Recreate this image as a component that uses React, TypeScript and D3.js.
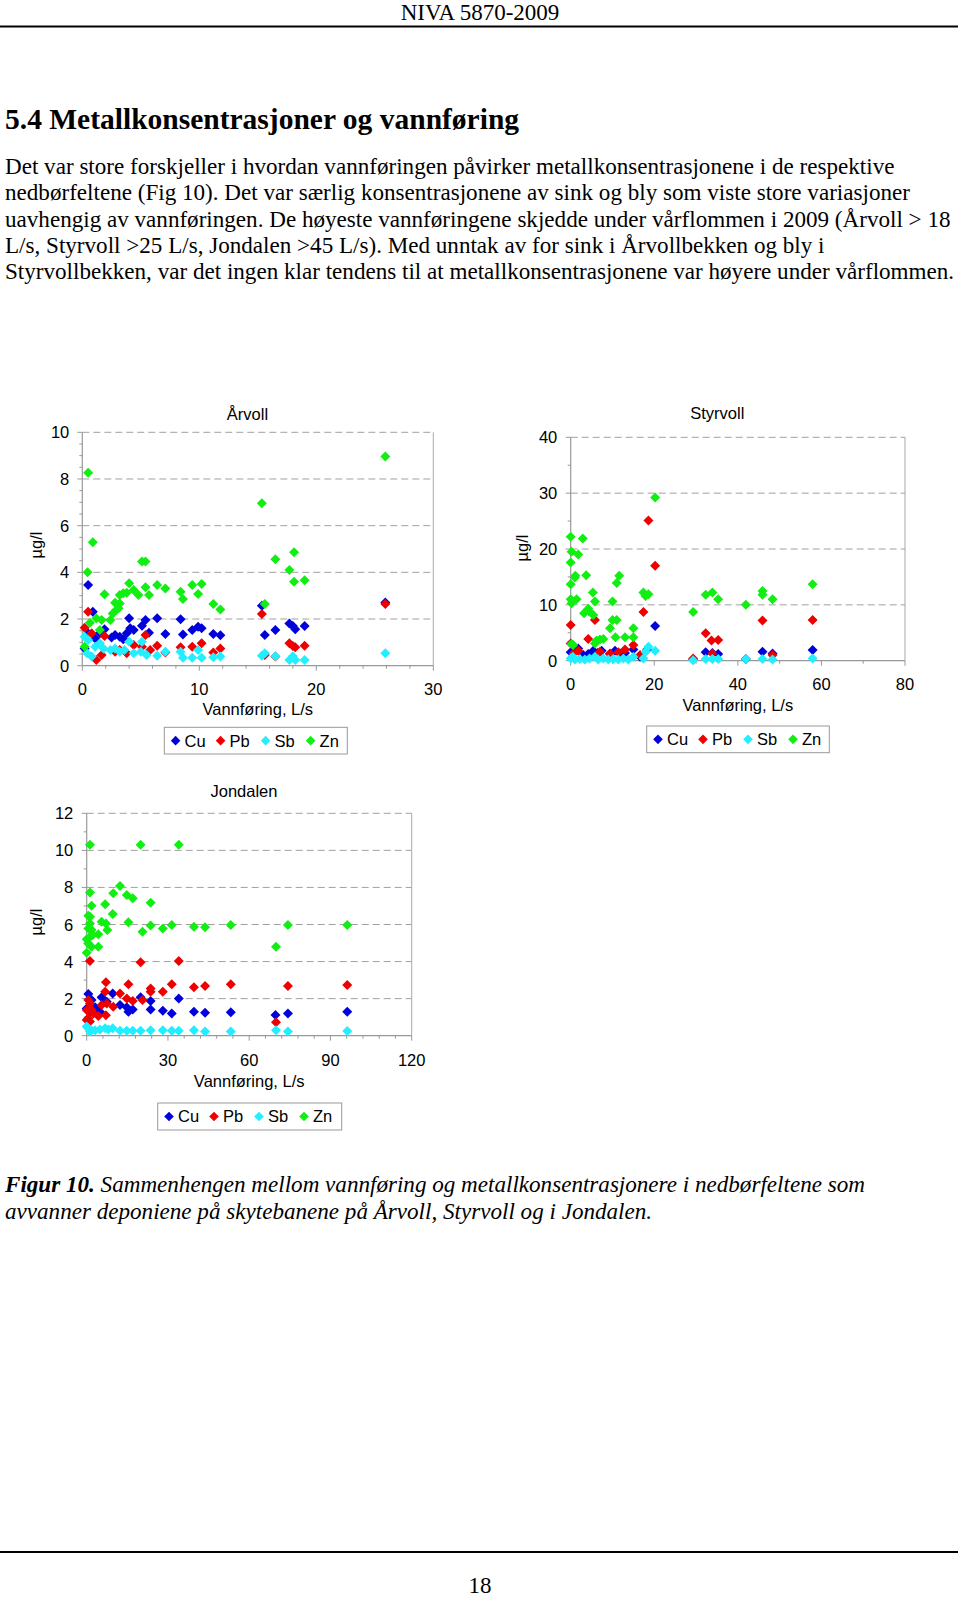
import React from 'react';
import * as d3 from 'd3';

type Pt = [number, number];

const SERIES_NAMES = ['Cu', 'Pb', 'Sb', 'Zn'];
const SERIES_COLORS = ['#0000DD', '#EE0000', '#22EEFF', '#11EE11'];

// Årvoll
const arvollCu: Pt[] = [[0.5,3.46],[0.9,2.31],[25.9,2.71],[15.35,2.57],[15.6,1.31],[16.5,1.53],[17.7,1.81],[18.0,1.7],[18.2,1.56],[19.0,1.7],[8.4,1.99],[8.6,1.34],[9.4,1.53],[9.9,1.67],[10.2,1.6],[11.2,1.36],[11.8,1.3],[7.1,1.36],[6.4,2.03],[5.7,1.41],[5.4,1.96],[5.1,1.71],[4.0,2.03],[4.4,1.53],[4.1,1.6],[3.8,1.39],[3.2,1.24],[2.8,1.31],[2.5,1.21],[1.9,1.56],[1.5,1.39],[1.1,1.17],[0.2,0.74],[0.5,1.39],[3.5,1.13]];
const arvollPb: Pt[] = [[0.5,2.31],[0.2,1.63],[0.8,1.39],[1.2,0.24],[1.65,0.46],[1.9,1.27],[15.35,2.21],[25.9,2.64],[17.7,0.96],[18.0,0.84],[18.2,0.79],[19.0,0.86],[8.4,0.79],[9.4,0.81],[10.2,0.96],[11.2,0.57],[11.8,0.74],[7.1,0.57],[6.4,0.86],[5.4,1.31],[5.1,0.81],[4.4,0.89],[3.8,0.53],[2.8,0.6],[3.2,0.67],[5.8,0.67],[15.6,0.46],[16.5,0.39]];
const arvollSb: Pt[] = [[0.2,1.24],[0.5,1.1],[0.4,0.53],[0.8,0.39],[1.1,0.81],[1.5,0.96],[1.8,0.74],[2.4,0.67],[2.8,0.74],[3.2,0.6],[3.6,0.67],[4.0,1.03],[4.4,0.53],[5.0,0.6],[5.1,1.03],[5.5,0.46],[6.4,0.43],[7.1,0.6],[8.4,0.6],[8.6,0.34],[9.4,0.34],[9.9,0.67],[10.2,0.34],[11.2,0.36],[11.8,0.39],[15.35,0.43],[15.6,0.53],[16.5,0.41],[17.7,0.24],[18.0,0.41],[18.2,0.24],[19.0,0.24],[25.9,0.53]];
const arvollZn: Pt[] = [[0.5,8.27],[0.9,5.29],[0.45,4.0],[25.9,8.96],[15.35,6.96],[16.5,4.56],[18.1,4.86],[17.7,4.1],[18.1,3.6],[19.0,3.66],[15.6,2.64],[5.1,4.46],[5.4,4.46],[4.0,3.53],[5.4,3.36],[5.7,3.03],[6.4,3.46],[7.1,3.31],[8.4,3.17],[8.6,2.86],[9.4,3.46],[9.9,3.07],[10.2,3.5],[11.2,2.64],[11.8,2.41],[4.4,3.24],[4.8,3.03],[3.2,3.03],[3.5,3.1],[3.8,3.13],[2.8,2.7],[2.9,2.39],[2.6,2.24],[1.9,3.06],[2.4,1.96],[1.65,1.96],[1.2,2.03],[0.65,1.84],[1.5,1.53],[0.2,0.81],[3.2,2.67],[3.1,2.46]];

// Styrvoll
const styrvollCu: Pt[] = [[20.2,6.2],[57.9,1.9],[45.9,1.6],[48.3,1.3],[32.3,1.5],[33.9,1.4],[35.3,1.2],[0,1.5],[0.6,1.8],[1.8,2.2],[3.0,1.0],[4.2,1.2],[5.4,1.8],[6.4,1.4],[7.4,1.8],[9.4,1.2],[10.6,1.8],[11.8,1.3],[13,1.4],[15,2.0],[18.3,2.0],[29.3,0.2],[41.9,0.3],[16.6,0.7]];
const styrvollPb: Pt[] = [[0,6.4],[0,3.1],[4.2,3.9],[5.8,7.3],[18.6,25.1],[20.2,17.0],[17.4,8.7],[32.3,4.9],[33.7,3.6],[35.3,3.7],[45.9,7.2],[57.9,7.3],[13.0,2.0],[15.0,2.8],[1.8,1.8],[9.4,1.3],[29.3,0.4],[48.3,1.0],[33.9,1.3],[0.6,1.3],[7,1.6],[11.4,1.5],[16.6,1.0]];
const styrvollSb: Pt[] = [[20.2,1.8],[18.6,2.5],[17.9,1.6],[17.4,0.4],[15,0.7],[57.9,0.4],[45.9,0.3],[48.3,0.2],[41.9,0.3],[32.3,0.3],[33.9,0.3],[35.3,0.3],[29.3,0.1],[0,0.4],[0.5,0.7],[1.0,0.2],[2.2,0.3],[3.4,0.2],[4.5,0.4],[5.8,0.7],[6.6,0.2],[7.8,0.4],[9.0,0.2],[10.2,0.3],[11.4,0.2],[12.6,0.4],[13.8,0.2]];
const styrvollZn: Pt[] = [[0,22.2],[2.9,21.9],[0.2,19.5],[1.8,19.0],[0,17.6],[1.1,15.2],[3.7,15.3],[1.0,14.9],[0,13.7],[11.0,13.9],[11.6,15.2],[0,11.0],[1.4,11.0],[0.2,10.3],[5.3,12.2],[5.8,10.6],[10.0,10.6],[3.2,8.5],[4.2,9.3],[4.4,8.8],[5.4,8.2],[10.0,7.3],[11.0,7.3],[9.4,5.8],[10.7,4.2],[13.0,4.2],[15.0,5.8],[15.0,4.2],[6.2,3.6],[7.0,3.8],[7.8,3.9],[17.4,12.2],[18.6,11.9],[17.9,11.6],[20.2,29.2],[29.3,8.7],[32.3,11.8],[33.9,12.2],[35.3,11.0],[41.9,10.0],[45.9,12.5],[45.9,11.8],[48.3,11.0],[57.9,13.7],[0.2,3.0],[0.6,2.8],[5.8,3.1]];

// Jondalen
const jondalenCu: Pt[] = [[0.6,2.25],[5.5,2.07],[9.6,2.28],[12.3,1.65],[14.8,1.53],[15.4,1.29],[17.0,1.42],[19.9,2.07],[23.6,1.87],[23.6,1.42],[34.0,2.01],[28.1,1.35],[31.4,1.2],[39.6,1.29],[43.7,1.24],[53.2,1.26],[69.7,1.12],[74.3,1.2],[96.2,1.29],[1.8,1.92],[7.4,1.83],[3.1,1.53],[0,1.47],[1.2,1.29],[4.9,1.29]];
const jondalenPb: Pt[] = [[1.2,4.03],[19.9,3.96],[34.0,4.03],[7.1,2.88],[15.4,2.77],[23.6,2.55],[23.6,2.37],[28.1,2.37],[31.4,2.77],[39.6,2.61],[43.7,2.68],[53.2,2.77],[74.3,2.68],[96.2,2.73],[69.9,0.72],[12.3,2.28],[6.8,2.37],[14.8,2.01],[17.0,1.87],[20.6,1.92],[9.8,1.56],[5.5,1.65],[7.4,1.74],[4.3,1.06],[7.1,1.11],[0.6,1.92],[1.2,1.74],[1.8,1.38],[0.6,0.94],[1.2,0.76],[0,1.38],[2.5,1.2],[0,0.85]];
const jondalenSb: Pt[] = [[0.6,0.4],[1.8,0.3],[3.1,0.3],[4.9,0.34],[6.8,0.4],[8,0.34],[9.6,0.4],[12.3,0.27],[14.8,0.27],[17,0.27],[19.9,0.27],[23.6,0.3],[28.1,0.3],[31.4,0.27],[34,0.27],[39.6,0.3],[43.7,0.22],[53.2,0.22],[69.9,0.3],[74.3,0.22],[96.2,0.25],[0,0.49],[1.2,0.22]];
const jondalenZn: Pt[] = [[1.2,10.3],[19.9,10.3],[34.0,10.3],[12.3,8.08],[9.8,7.68],[14.8,7.59],[17.0,7.41],[1.2,7.72],[23.6,7.18],[6.8,7.09],[1.8,7.01],[9.6,6.56],[5.5,6.15],[15.4,6.12],[7.1,6.06],[7.6,5.7],[4.3,5.47],[0.6,6.47],[1.2,6.42],[23.6,5.94],[31.4,5.97],[28.1,5.79],[39.6,5.88],[43.7,5.85],[53.2,5.97],[74.3,5.97],[96.2,5.97],[69.9,4.8],[20.6,5.61],[4.3,4.8],[0,4.48],[0.6,4.98],[1.2,5.34],[1.8,5.7],[0.6,5.79],[1.2,6.06],[0,5.2],[1.8,4.8],[2.2,5.43]];

const paragraphLines = [
  'Det var store forskjeller i hvordan vannføringen påvirker metallkonsentrasjonene i de respektive',
  'nedbørfeltene (Fig 10). Det var særlig konsentrasjonene av sink og bly som viste store variasjoner',
  'uavhengig av vannføringen. De høyeste vannføringene skjedde under vårflommen i 2009 (Årvoll > 18',
  'L/s, Styrvoll >25 L/s, Jondalen >45 L/s). Med unntak av for sink i Årvollbekken og bly i',
  'Styrvollbekken, var det ingen klar tendens til at metallkonsentrasjonene var høyere under vårflommen.',
];

const SANS = '"Liberation Sans", Arial, sans-serif';
const SERIF = '"Liberation Serif", "Times New Roman", serif';

interface ChartCfg {
  title: string;
  left: number; right: number; top: number; bottom: number;
  xMax: number; xStep: number; xMinor: number;
  yMax: number; yStep: number; yMinor: number;
  yLabelX: number; xLabelY: number; axisTitleY: number;
  titleX: number; titleY: number;
  unitX: number; unitY: number;
  legX: number; legY: number; legW: number; legH: number;
  series: Pt[][];
}

function diamond(cx: number, cy: number, r: number) {
  return `M${cx},${cy - r}L${cx + r},${cy}L${cx},${cy + r}L${cx - r},${cy}Z`;
}

function ScatterChart({ c }: { c: ChartCfg }) {
  const x = d3.scaleLinear().domain([0, c.xMax]).range([c.left, c.right]);
  const y = d3.scaleLinear().domain([0, c.yMax]).range([c.bottom, c.top]);
  const eps = 1e-9;
  const xMaj = d3.range(0, c.xMax + eps, c.xStep);
  const yMaj = d3.range(0, c.yMax + eps, c.yStep);
  const xMin = d3.range(0, c.xMax + eps, c.xMinor).filter(v => Math.abs(v / c.xStep - Math.round(v / c.xStep)) > 1e-6);
  const yMin = d3.range(0, c.yMax + eps, c.yMinor).filter(v => Math.abs(v / c.yStep - Math.round(v / c.yStep)) > 1e-6);
  return (
    <g fontFamily={SANS} fontSize={16.5} fill="#000">
      <text x={c.titleX} y={c.titleY} textAnchor="middle">{c.title}</text>
      {yMaj.filter(v => v > 0).map(v => (
        <line key={'g' + v} x1={c.left} x2={c.right} y1={y(v)} y2={y(v)} stroke="#a0a0a0" strokeDasharray="7,4" />
      ))}
      <line x1={c.right} x2={c.right} y1={c.top} y2={c.bottom} stroke="#a8a8a8" />
      <line x1={c.left} x2={c.left} y1={c.top} y2={c.bottom} stroke="#999" strokeWidth={1.2} />
      <line x1={c.left} x2={c.right} y1={c.bottom} y2={c.bottom} stroke="#999" strokeWidth={1.2} />
      {yMaj.map(v => (
        <g key={'yt' + v}>
          <line x1={c.left - 5} x2={c.left} y1={y(v)} y2={y(v)} stroke="#999" />
          <text x={c.yLabelX} y={y(v)} textAnchor="end" dominantBaseline="central">{v}</text>
        </g>
      ))}
      {yMin.map(v => (
        <line key={'ym' + v} x1={c.left - 3} x2={c.left} y1={y(v)} y2={y(v)} stroke="#999" />
      ))}
      {xMaj.map(v => (
        <g key={'xt' + v}>
          <line x1={x(v)} x2={x(v)} y1={c.bottom} y2={c.bottom + 5} stroke="#999" />
          <text x={x(v)} y={c.xLabelY} textAnchor="middle">{v}</text>
        </g>
      ))}
      {xMin.map(v => (
        <line key={'xm' + v} x1={x(v)} x2={x(v)} y1={c.bottom} y2={c.bottom + 3} stroke="#999" />
      ))}
      <text x={(c.left + c.right) / 2} y={c.axisTitleY} textAnchor="middle">Vannføring, L/s</text>
      <text transform={`translate(${c.unitX},${c.unitY}) rotate(-90)`} textAnchor="middle" dominantBaseline="central">µg/l</text>
      {c.series.map((pts, si) => (
        <g key={'s' + si} fill={SERIES_COLORS[si]}>
          {pts.map((p, i) => (
            <path key={i} d={diamond(x(p[0]), y(p[1]), 5)} />
          ))}
        </g>
      ))}
      <rect x={c.legX} y={c.legY} width={c.legW} height={c.legH} fill="#fff" stroke="#999" />
      {SERIES_NAMES.map((n, i) => {
        const mx = c.legX + 11.3 + 45 * i;
        const cy = c.legY + c.legH / 2;
        return (
          <g key={n}>
            <path d={diamond(mx, cy, 4.8)} fill={SERIES_COLORS[i]} />
            <text x={mx + 9} y={c.legY + 19.4}>{n}</text>
          </g>
        );
      })}
    </g>
  );
}

const charts: ChartCfg[] = [
  {
    title: 'Årvoll', left: 82.3, right: 433.3, top: 432.3, bottom: 665.7,
    xMax: 30, xStep: 10, xMinor: 2, yMax: 10, yStep: 2, yMinor: 0.5,
    yLabelX: 69.3, xLabelY: 695, axisTitleY: 715, titleX: 247.5, titleY: 420,
    unitX: 36, unitY: 545, legX: 164.3, legY: 727.3, legW: 183, legH: 26.7,
    series: [arvollCu, arvollPb, arvollSb, arvollZn],
  },
  {
    title: 'Styrvoll', left: 570.7, right: 905, top: 437.3, bottom: 660.7,
    xMax: 80, xStep: 20, xMinor: 10, yMax: 40, yStep: 10, yMinor: 5,
    yLabelX: 557.3, xLabelY: 690, axisTitleY: 710.7, titleX: 717.3, titleY: 419,
    unitX: 522, unitY: 548, legX: 646.7, legY: 726, legW: 182.6, legH: 26.7,
    series: [styrvollCu, styrvollPb, styrvollSb, styrvollZn],
  },
  {
    title: 'Jondalen', left: 86.7, right: 411.7, top: 813.3, bottom: 1035.7,
    xMax: 120, xStep: 30, xMinor: 6, yMax: 12, yStep: 2, yMinor: 1,
    yLabelX: 73.3, xLabelY: 1065.7, axisTitleY: 1086.7, titleX: 244, titleY: 796.7,
    unitX: 36, unitY: 922, legX: 157.7, legY: 1103, legW: 184, legH: 27,
    series: [jondalenCu, jondalenPb, jondalenSb, jondalenZn],
  },
];

export default function App() {
  return (
    <svg width={960} height={1597} style={{ position: 'absolute', left: 0, top: 0, background: '#fff' }}>
      <rect x={0} y={0} width={960} height={1597} fill="#fff" />
      <g fontFamily={SERIF} fill="#000">
        <text x={480} y={20} fontSize={23} textAnchor="middle">NIVA 5870-2009</text>
        <line x1={0} x2={958} y1={26.5} y2={26.5} stroke="#000" strokeWidth={2.2} />
        <text x={5} y={129} fontSize={29.5} fontWeight="bold">5.4 Metallkonsentrasjoner og vannføring</text>
        {paragraphLines.map((l, i) => (
          <text key={i} x={5} y={174 + i * 26.3} fontSize={23.1}>{l}</text>
        ))}
        <text x={5} y={1192} fontSize={23.1} fontStyle="italic">
          <tspan fontWeight="bold">Figur 10.</tspan> Sammenhengen mellom vannføring og metallkonsentrasjonere i nedbørfeltene som
        </text>
        <text x={5} y={1218.5} fontSize={23.1} fontStyle="italic">avvanner deponiene på skytebanene på Årvoll, Styrvoll og i Jondalen.</text>
        <line x1={0} x2={958} y1={1552} y2={1552} stroke="#000" strokeWidth={2.2} />
        <text x={480} y={1593} fontSize={23} textAnchor="middle">18</text>
      </g>
      {charts.map(c => <ScatterChart key={c.title} c={c} />)}
    </svg>
  );
}
